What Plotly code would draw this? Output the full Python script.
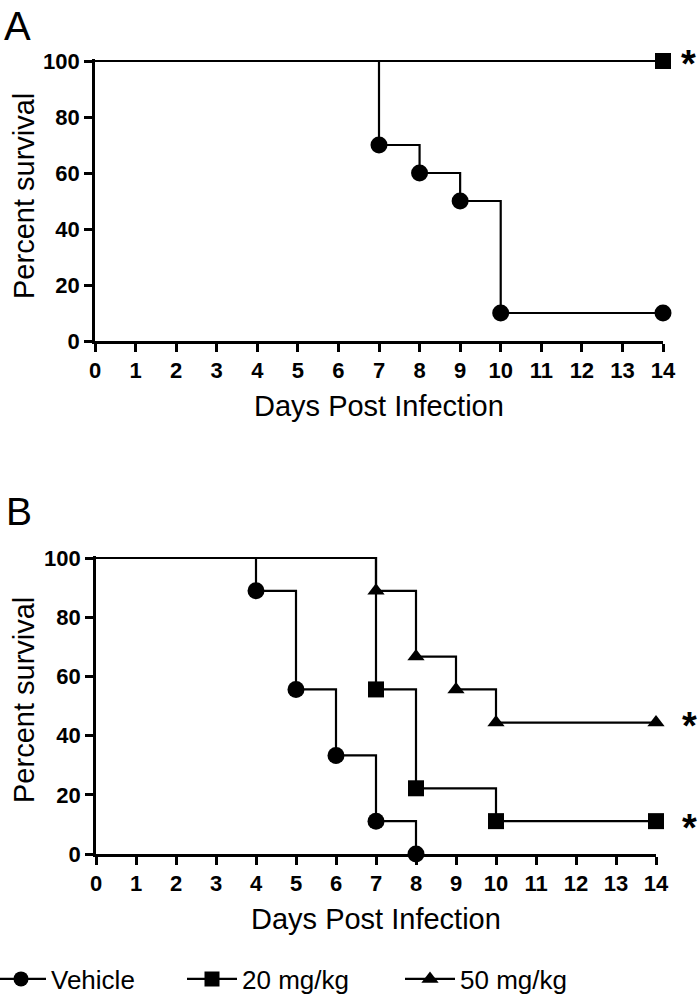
import plotly.graph_objects as go

# Panel A data
a_vehicle_days = [0, 7, 8, 9, 10, 14]
a_vehicle_surv = [100, 70, 60, 50, 10, 10]
a_20_days = [0, 14]
a_20_surv = [100, 100]

# Panel B data
b_vehicle_days = [0, 4, 5, 6, 7, 8]
b_vehicle_surv = [100, 88.9, 55.6, 33.3, 11.1, 0]
b_20_days = [0, 7, 8, 10, 14]
b_20_surv = [100, 55.6, 22.2, 11.1, 11.1]
b_50_days = [0, 7, 8, 9, 10, 14]
b_50_surv = [100, 88.9, 66.7, 55.6, 44.4, 44.4]

series_names = ["Vehicle", "20 mg/kg", "50 mg/kg"]
series_symbols = ["circle", "square", "triangle-up"]
x_ticks = list(range(0, 15))
y_ticks = [0, 20, 40, 60, 80, 100]

FONT = "Liberation Sans, Arial, sans-serif"
BLACK = "#000000"
LW = 2.2
SIZES = {"circle": 17, "square": 16, "triangle-up": 15}

W, H = 700, 994
YMAX = 100.6

fig = go.Figure()


def add_curve(days, surv, symbol, xa, ya):
    fig.add_trace(go.Scatter(x=days, y=surv, mode="lines", line=dict(color=BLACK, width=LW, shape="hv"),
                             xaxis=xa, yaxis=ya, showlegend=False, hoverinfo="skip"))
    fig.add_trace(go.Scatter(x=days[1:], y=surv[1:], mode="markers",
                             marker=dict(symbol=symbol, size=SIZES[symbol], color=BLACK, line=dict(width=0)),
                             xaxis=xa, yaxis=ya, showlegend=False, cliponaxis=False))


# Panel A
add_curve(a_20_days, a_20_surv, "square", "x", "y")
add_curve(a_vehicle_days, a_vehicle_surv, "circle", "x", "y")
# Panel B
add_curve(b_vehicle_days, b_vehicle_surv, "circle", "x2", "y2")
add_curve(b_20_days, b_20_surv, "square", "x2", "y2")
add_curve(b_50_days, b_50_surv, "triangle-up", "x2", "y2")

# Legend entries, each in its own legend box
legend_ids = ["legend", "legend2", "legend3"]
for name, sym, lid in zip(series_names, series_symbols, legend_ids):
    fig.add_trace(go.Scatter(x=[None], y=[None], mode="lines+markers", name=name,
                             line=dict(color=BLACK, width=LW),
                             marker=dict(symbol=sym, size=15, color=BLACK),
                             xaxis="x2", yaxis="y2", legend=lid))

axis_common = dict(
    showline=True, linecolor=BLACK, linewidth=2.8, ticks="outside", ticklen=8, tickwidth=2.6,
    tickcolor=BLACK, showgrid=False, zeroline=False, mirror=False, automargin=False,
    tickfont=dict(family=FONT, size=22, color=BLACK, weight="bold"),
)
xaxis_common = dict(axis_common, range=[0, 14], tickvals=x_ticks)
yaxis_common = dict(axis_common, range=[0, YMAX], tickvals=y_ticks)


def ydom(top100_px, bottom0_px):
    span = (bottom0_px - top100_px) / 100.0
    top_px = bottom0_px - span * YMAX
    return [1 - bottom0_px / H, 1 - top_px / H]


leg_common = dict(orientation="h", xanchor="left", y=1 - 979 / H, yanchor="middle",
                  font=dict(family=FONT, size=26, color=BLACK), itemwidth=50,
                  bgcolor="rgba(0,0,0,0)")

title_font = dict(family=FONT, size=29, color=BLACK)
star_font = dict(family=FONT, size=38, color=BLACK, weight="bold")

fig.update_layout(
    width=W, height=H,
    margin=dict(l=0, r=0, t=0, b=0, autoexpand=False),
    paper_bgcolor="white", plot_bgcolor="white",
    xaxis=dict(xaxis_common, domain=[95 / W, 663 / W], anchor="y"),
    yaxis=dict(yaxis_common, domain=ydom(61, 341), anchor="x"),
    xaxis2=dict(xaxis_common, domain=[96 / W, 656 / W], anchor="y2"),
    yaxis2=dict(yaxis_common, domain=ydom(558, 854), anchor="x2"),
    showlegend=True,
    legend=dict(leg_common, x=-9 / W),
    legend2=dict(leg_common, x=182 / W),
    legend3=dict(leg_common, x=400 / W),
    annotations=[
        dict(text="A", x=2 / W, y=1 - 2 / H, xref="paper", yref="paper", xanchor="left", yanchor="top",
             showarrow=False, font=dict(family=FONT, size=40, color=BLACK)),
        dict(text="B", x=4 / W, y=1 - 488 / H, xref="paper", yref="paper", xanchor="left", yanchor="top",
             showarrow=False, font=dict(family=FONT, size=39, color=BLACK)),
        # axis titles
        dict(text="Days Post Infection", x=379 / W, y=1 - 406 / H, xref="paper", yref="paper",
             xanchor="center", yanchor="middle", showarrow=False, font=title_font),
        dict(text="Days Post Infection", x=376 / W, y=1 - 919 / H, xref="paper", yref="paper",
             xanchor="center", yanchor="middle", showarrow=False, font=title_font),
        dict(text="Percent survival", x=24 / W, y=1 - 196 / H, xref="paper", yref="paper",
             xanchor="center", yanchor="middle", textangle=-90, showarrow=False, font=title_font),
        dict(text="Percent survival", x=24 / W, y=1 - 700 / H, xref="paper", yref="paper",
             xanchor="center", yanchor="middle", textangle=-90, showarrow=False, font=title_font),
        # significance stars
        dict(text="*", x=14, y=100, xref="x", yref="y", xshift=25, yshift=-3, showarrow=False, font=star_font),
        dict(text="*", x=14, y=44.4, xref="x2", yref="y2", xshift=33, yshift=-3, showarrow=False, font=star_font),
        dict(text="*", x=14, y=11.1, xref="x2", yref="y2", xshift=33, yshift=-7, showarrow=False, font=star_font),
    ],
)

fig.write_html("out.html", post_script="document.body.style.margin='0px';",
               config={"displayModeBar": False})
